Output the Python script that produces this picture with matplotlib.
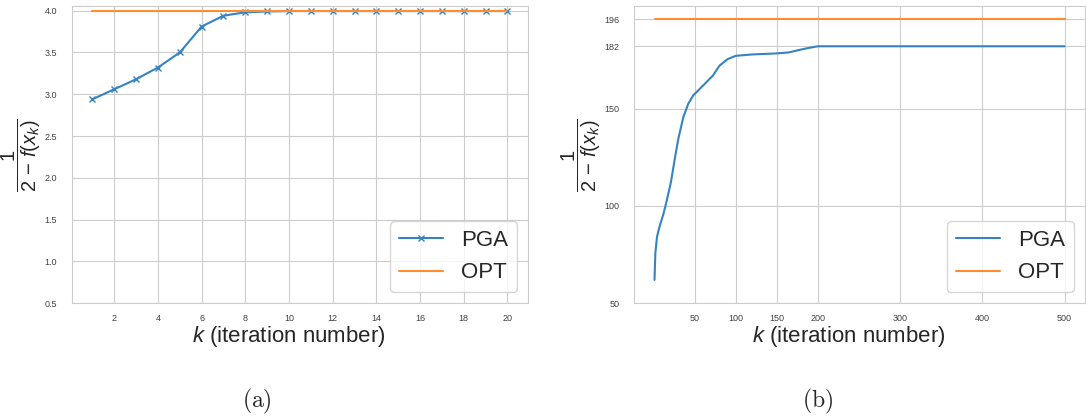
import numpy as np
import matplotlib
matplotlib.use("Agg")
import matplotlib.pyplot as plt
import seaborn as sns

# (a) first 20 iterations
iters_a = np.arange(1, 21)
pga_a = [2.94, 3.06, 3.18, 3.32, 3.50, 3.81, 3.94, 3.98, 3.99, 3.995,
         3.995, 3.995, 3.995, 3.995, 3.995, 3.995, 3.995, 3.995, 3.995, 3.995]
opt_a = [4.0] * len(iters_a)

# (b) 500 iterations
iters_b = [1, 2, 4, 7, 12, 16, 21, 26, 30, 36, 42, 48, 60, 72, 80, 90,
           100, 120, 148, 164, 176, 188, 200, 300, 400, 500]
pga_b = [62, 75.6, 84.1, 89.2, 96.1, 102.9, 112.3, 125, 134.5, 145.5, 152.4,
         156.7, 161.8, 166.9, 172, 175.4, 177.1, 177.8, 178.3, 178.8, 180,
         181.1, 182, 182, 182, 182]
opt_b_x = [1, 500]
opt_b = [196, 196]

xticks_a = list(range(2, 21, 2))
yticks_a = [0.5, 1.0, 1.5, 2.0, 2.5, 3.0, 3.5, 4.0]
xticks_b = [50, 100, 150, 200, 300, 400, 500]
yticks_b = [50, 100, 150, 182, 196]

sns.set_style("whitegrid")
plt.rcParams['font.family'] = ['Liberation Sans', 'DejaVu Sans']
plt.rcParams['mathtext.fontset'] = 'custom'
plt.rcParams['mathtext.rm'] = 'Liberation Sans'
plt.rcParams['mathtext.it'] = 'Liberation Sans:italic'

fig = plt.figure(figsize=(10.86, 4.17), dpi=100)
ax_a = fig.add_axes([0.066, 0.2727, 0.4204, 0.713])
ax_b = fig.add_axes([0.5838, 0.2727, 0.4153, 0.713])

blue = '#3583c2'
orange = '#ff8c2e'
ylabel = r'$\dfrac{1}{2\,-\,f(x_k)}$'
xlabel = r'$k$ (iteration number)'

ax_a.plot(iters_a, pga_a, color=blue, marker='x', markersize=4,
          markeredgewidth=1.0, linewidth=1.5, label='PGA')
ax_a.plot(iters_a, opt_a, color=orange, linewidth=1.5, label='OPT')
ax_a.set_xticks(xticks_a)
ax_a.set_yticks(yticks_a)
ax_a.set_ylim(0.5, 4.056)

ax_b.plot(iters_b, pga_b, color=blue, linewidth=1.5, label='PGA')
ax_b.plot(opt_b_x, opt_b, color=orange, linewidth=1.5, label='OPT')
ax_b.set_xticks(xticks_b)
ax_b.set_yticks(yticks_b)
ax_b.set_ylim(50, 202.7)

for ax in (ax_a, ax_b):
    ax.tick_params(axis='x', labelsize=6.5, pad=4, colors='.25')
    ax.tick_params(axis='y', labelsize=6.5, pad=7, colors='.25')
    ax.set_xlabel(xlabel, fontsize=16, labelpad=1, color='.15', x=0.476)
    ax.set_ylabel(ylabel, fontsize=14.5, labelpad=1, color='.15')
    ax.legend(loc='lower right', fontsize=16)

fig.text(0.2367, 0.037, r'$\mathrm{(a)}$', fontsize=17, ha='center',
         va='center', math_fontfamily='cm')
fig.text(0.7532, 0.037, r'$\mathrm{(b)}$', fontsize=17, ha='center',
         va='center', math_fontfamily='cm')

fig.savefig('out.png', dpi=100)
